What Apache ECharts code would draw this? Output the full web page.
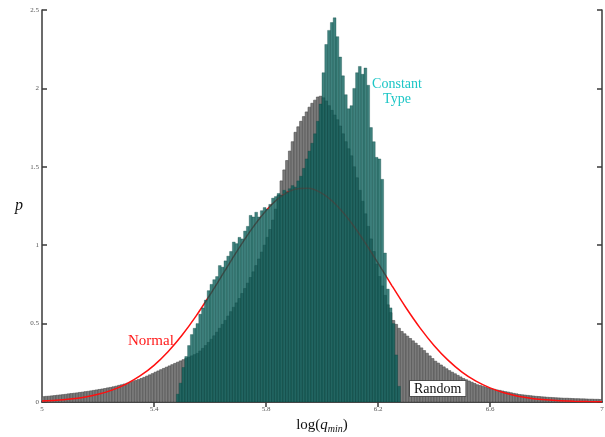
<!DOCTYPE html>
<html>
<head>
<meta charset="utf-8">
<script src="https://cdn.jsdelivr.net/npm/echarts@6/dist/echarts.min.js"></script>
<style>
  html, body { margin: 0; padding: 0; background: #fff; }
  #chart { width: 605px; height: 437px; }
</style>
</head>
<body>
<div id="chart"></div>
<script>
// Histogram bin layout (log q_min), bins of 0.01
const BIN = 0.01;
const randomStart = 5.00;
const constantStart = 5.48;
const normalStart = 5.00;
const normalStep = 0.05;

// "Random" histogram, p per bin from 5.00 to 6.99
const randomP = [
  0.034,0.036,0.037,0.039,0.041,0.043,0.045,0.047,0.049,0.052,
  0.054,0.056,0.058,0.061,0.063,0.066,0.068,0.071,0.074,0.077,
  0.080,0.083,0.086,0.090,0.093,0.097,0.101,0.106,0.110,0.115,
  0.120,0.125,0.131,0.137,0.143,0.150,0.157,0.165,0.173,0.181,
  0.190,0.198,0.206,0.214,0.222,0.230,0.238,0.246,0.254,0.262,
  0.270,0.278,0.286,0.294,0.302,0.310,0.325,0.342,0.360,0.380,
  0.400,0.422,0.445,0.470,0.495,0.520,0.548,0.576,0.604,0.632,
  0.660,0.692,0.724,0.758,0.794,0.830,0.870,0.912,0.956,1.000,
  1.050,1.100,1.160,1.230,1.320,1.410,1.480,1.540,1.600,1.660,
  1.720,1.755,1.790,1.820,1.850,1.880,1.905,1.925,1.945,1.950,
  1.940,1.920,1.890,1.860,1.830,1.800,1.760,1.710,1.660,1.615,
  1.570,1.500,1.430,1.350,1.280,1.200,1.120,1.040,0.960,0.880,
  0.800,0.740,0.680,0.620,0.570,0.520,0.495,0.470,0.450,0.435,
  0.420,0.405,0.390,0.375,0.360,0.345,0.328,0.311,0.294,0.277,
  0.260,0.248,0.236,0.224,0.212,0.200,0.190,0.180,0.170,0.160,
  0.150,0.142,0.134,0.126,0.118,0.110,0.105,0.100,0.095,0.090,
  0.085,0.081,0.077,0.074,0.070,0.066,0.063,0.059,0.055,0.052,
  0.048,0.046,0.044,0.042,0.040,0.038,0.036,0.035,0.033,0.032,
  0.030,0.029,0.028,0.027,0.026,0.025,0.024,0.024,0.023,0.022,
  0.021,0.021,0.020,0.020,0.019,0.018,0.018,0.017,0.017,0.016
];

// "Constant Type" histogram, p per bin from 5.48 to 6.27
const constantP = [
  0.05,0.12,0.22,0.29,0.36,0.43,0.47,0.50,0.56,0.60,
  0.65,0.71,0.75,0.78,0.80,0.87,0.86,0.90,0.93,0.96,
  1.02,1.01,1.05,1.04,1.09,1.12,1.19,1.18,1.21,1.18,
  1.22,1.24,1.23,1.26,1.30,1.31,1.33,1.32,1.35,1.34,
  1.36,1.38,1.37,1.41,1.44,1.49,1.55,1.60,1.65,1.71,
  1.79,1.90,2.10,2.28,2.37,2.42,2.45,2.33,2.20,2.08,
  1.96,1.87,1.89,2.00,2.10,2.14,2.09,2.13,2.02,1.75,
  1.66,1.56,1.55,1.42,0.95,0.72,0.60,0.50,0.30,0.10
];

// Fitted normal curve, sampled every 0.05 from 5.00 to 7.00
const normalP = [
  0.006,0.011,0.019,0.031,0.049,0.076,0.114,0.166,0.234,0.321,
  0.426,0.548,0.684,0.828,0.972,1.106,1.220,1.306,1.355,1.363,
  1.330,1.258,1.154,1.027,0.886,0.741,0.601,0.473,0.361,0.267,
  0.191,0.133,0.090,0.059,0.037,0.023,0.014,0.008,0.0044,0.0024,
  0.0013
];

const xLabels = [5, 5.4, 5.8, 6.2, 6.6, 7];
const xTicks = [5.4, 5.8, 6.2, 6.6];

const round2 = v => Math.round(v * 100) / 100;
const randomData = randomP.map((p, i) => [round2(randomStart + i * BIN), p]);
const constantData = constantP.map((p, i) => [round2(constantStart + i * BIN), p]);
const normalData = normalP.map((p, i) => [round2(normalStart + i * normalStep), p]);

function histBars(fill, stroke) {
  return function (params, api) {
    const x0 = api.value(0);
    const y = api.value(1);
    const top = api.coord([x0, y]);
    const base = api.coord([x0 + BIN, 0]);
    return {
      type: 'rect',
      shape: { x: top[0], y: top[1], width: base[0] - top[0], height: base[1] - top[1] },
      style: { fill: fill, stroke: stroke, lineWidth: 0.6 }
    };
  };
}

const SERIF = '"Liberation Serif", "DejaVu Serif", serif';
const axisLine = { show: true, lineStyle: { color: '#3a3a3a', width: 1.5 } };
const tickStyle = { color: '#3a3a3a', width: 1.5 };

const chart = echarts.init(document.getElementById('chart'), null, { renderer: 'canvas' });

chart.setOption({
  animation: false,
  backgroundColor: '#ffffff',
  grid: { left: 42, right: 3, top: 10, bottom: 35, containLabel: false, outerBoundsMode: 'none' },
  xAxis: [
    {
      type: 'value', min: 5, max: 7, position: 'bottom',
      axisLine: axisLine,
      splitLine: { show: false },
      axisTick: { show: true, inside: true, length: 5, lineStyle: tickStyle, customValues: xTicks },
      axisLabel: {
        show: true, customValues: xLabels, fontFamily: SERIF, fontSize: 7, color: '#555', margin: 4,
        formatter: v => String(round2(v))
      },
      name: '{a|log(}{q|q}{m|min}{a|)}',
      nameLocation: 'middle', nameGap: 15,
      nameTextStyle: {
        rich: {
          a: { fontFamily: SERIF, fontSize: 15, color: '#111' },
          q: { fontFamily: SERIF, fontSize: 15, fontStyle: 'italic', color: '#111' },
          m: { fontFamily: SERIF, fontSize: 10, fontStyle: 'italic', color: '#111', padding: [7, 0, 0, 0] }
        }
      }
    },
    {
      type: 'value', min: 5, max: 7, position: 'top',
      axisLine: axisLine,
      splitLine: { show: false },
      axisTick: { show: true, inside: true, length: 5, lineStyle: tickStyle, customValues: xTicks },
      axisLabel: { show: false }
    }
  ],
  yAxis: [
    {
      type: 'value', min: 0, max: 2.5, interval: 0.5, position: 'left',
      axisLine: axisLine,
      splitLine: { show: false },
      axisTick: { show: true, inside: true, length: 5, lineStyle: tickStyle },
      axisLabel: { fontFamily: SERIF, fontSize: 7, color: '#555', margin: 3 },
      name: 'p', nameLocation: 'middle', nameRotate: 0, nameGap: 19,
      nameTextStyle: { fontFamily: SERIF, fontSize: 16, fontStyle: 'italic', color: '#111', padding: [0, 0, 10, 0] }
    },
    {
      type: 'value', min: 0, max: 2.5, interval: 0.5, position: 'right',
      axisLine: axisLine,
      splitLine: { show: false },
      axisTick: { show: true, inside: true, length: 5, lineStyle: tickStyle },
      axisLabel: { show: false }
    }
  ],
  series: [
    {
      name: 'Random', type: 'custom', z: 1, clip: true,
      xAxisIndex: 0, yAxisIndex: 0,
      renderItem: histBars('#7b7b7b', '#4e4e4e'),
      encode: { x: 0, y: 1 },
      data: randomData
    },
    {
      name: 'Normal', type: 'line', z: 2, smooth: 0.3, symbol: 'none',
      xAxisIndex: 0, yAxisIndex: 0,
      lineStyle: { color: '#ff1010', width: 1.5 },
      data: normalData
    },
    {
      name: 'Constant Type', type: 'custom', z: 3, clip: true,
      xAxisIndex: 0, yAxisIndex: 0,
      renderItem: histBars('rgba(10,95,90,0.78)', 'rgba(8,70,66,0.55)'),
      encode: { x: 0, y: 1 },
      data: constantData
    }
  ],
  graphic: [
    {
      type: 'text', x: 128, y: 334, z: 10,
      style: { text: 'Normal', fontFamily: SERIF, fontSize: 15, fill: '#ff1a1a' }
    },
    {
      type: 'text', x: 397, y: 77, z: 10,
      style: {
        text: 'Constant\nType', fontFamily: SERIF, fontSize: 14, lineHeight: 15,
        fill: '#1cc6c6', align: 'center'
      }
    },
    {
      type: 'text', x: 410, y: 381, z: 10,
      style: {
        text: 'Random', fontFamily: SERIF, fontSize: 14, fill: '#111',
        backgroundColor: '#ffffff', borderColor: '#444', borderWidth: 0.8,
        padding: [1, 4, 0, 4]
      }
    }
  ]
});
</script>
</body>
</html>
